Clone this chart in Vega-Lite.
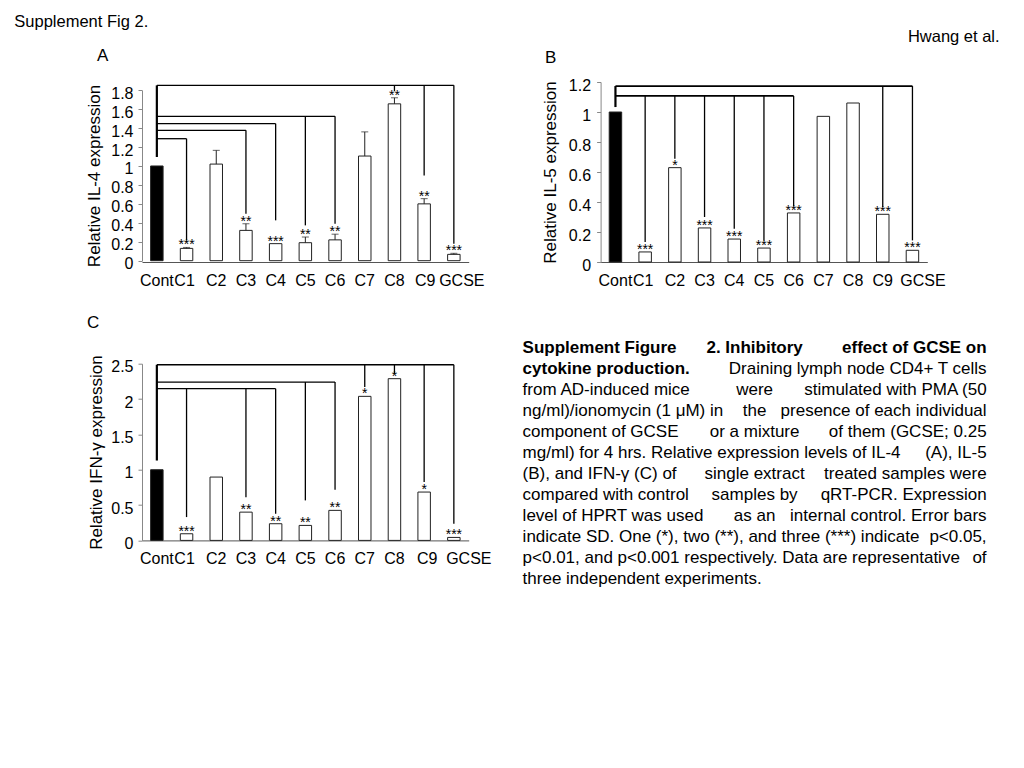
{
  "$schema": "https://vega.github.io/schema/vega-lite/v6.json",
  "padding": {"left": 14, "top": 14, "right": 5, "bottom": 5},
  "background": "white",
  "columns": 2,
  "align": "none",
  "bounds": "flush",
  "spacing": {"row": 76.7, "column": 131.6},
  "title": {"text": "Supplement Fig 2.", "anchor": "start", "frame": "group", "dx": -127.7, "offset": -1.7, "fontSize": 16.5},
  "config": {
    "font": "Liberation Sans",
    "view": {"stroke": null},
    "title": {"fontWeight": "normal", "fontSize": 17, "color": "black"},
    "axis": {"grid": false, "labelOverlap": false, "labelFontSize": 16, "labelColor": "black", "titleFontSize": 17, "titleFontWeight": "normal", "titleColor": "black", "domainColor": "#888", "tickColor": "#888"},
    "axisX": {"domainColor": "#555"}
  },
  "concat": [
    {
      "width": 326.7,
      "height": 180,
      "title": {"text": "A", "anchor": "start", "frame": "group", "dx": -45, "offset": 17},
      "layer": [
        {
          "data": {"values": [
            {"label": "Cont", "value": 1.0, "sig": ""},
            {"label": "C1", "value": 0.13, "err": 0.14, "sig": "***"},
            {"label": "C2", "value": 1.02, "err": 1.165, "sig": ""},
            {"label": "C3", "value": 0.32, "err": 0.39, "sig": "**"},
            {"label": "C4", "value": 0.18, "sig": "***"},
            {"label": "C5", "value": 0.19, "err": 0.25, "sig": "**"},
            {"label": "C6", "value": 0.22, "err": 0.28, "sig": "**"},
            {"label": "C7", "value": 1.105, "err": 1.36, "sig": ""},
            {"label": "C8", "value": 1.656, "err": 1.72, "sig": "**"},
            {"label": "C9", "value": 0.6, "err": 0.655, "sig": "**"},
            {"label": "GCSE", "value": 0.067, "err": 0.078, "sig": "***"}
          ]},
          "layer": [
            {
              "mark": {"type": "bar", "stroke": "#222", "strokeWidth": 1},
              "encoding": {
                "x": {"field": "label", "type": "nominal", "sort": null,
                  "scale": {"domain": ["Cont","C1","C2","C3","C4","C5","C6","C7","C8","C9","GCSE"], "paddingInner": 0.58, "paddingOuter": 0.29},
                  "axis": {"title": null, "labelAngle": 0, "ticks": false, "tickSize": 0, "labelPadding": 10, "labelOverlap": false,
                    "labelOffset": {"condition": [{"test": "datum.value === 'C1'", "value": -2}, {"test": "datum.value === 'C9'", "value": 1}, {"test": "datum.value === 'GCSE'", "value": 8}], "value": 0}}},
                "y": {"field": "value", "type": "quantitative",
                  "scale": {"domain": [0, 1.8], "range": [178.7, 8.2], "nice": false},
                  "axis": {"title": "Relative IL-4 expression", "values": [0,0.2,0.4,0.6,0.8,1,1.2,1.4,1.6,1.8], "tickCount": 20, "format": "~g", "labelOverlap": false, "tickSize": 4, "labelPadding": 5, "labelOffset": 3, "titlePadding": 7}},
                "fill": {"condition": {"test": "datum.label === 'Cont'", "value": "black"}, "value": "white"}
              }
            },
            {
              "transform": [{"filter": "isValid(datum.err)"}],
              "mark": {"type": "rule", "color": "#222", "strokeWidth": 1},
              "encoding": {"x": {"field": "label", "type": "nominal"}, "y": {"field": "value", "type": "quantitative"}, "y2": {"field": "err"}}
            },
            {
              "transform": [{"filter": "isValid(datum.err)"}],
              "mark": {"type": "tick", "color": "#222", "thickness": 1, "size": 7},
              "encoding": {"x": {"field": "label", "type": "nominal"}, "y": {"field": "err", "type": "quantitative"}}
            },
            {
              "transform": [{"filter": "isValid(datum.err)"}],
              "mark": {"type": "text", "fontSize": 14, "baseline": "alphabetic", "dy": 2},
              "encoding": {"x": {"field": "label", "type": "nominal"}, "y": {"field": "err", "type": "quantitative"}, "text": {"field": "sig"}}
            },
            {
              "transform": [{"filter": "!isValid(datum.err)"}],
              "mark": {"type": "text", "fontSize": 14, "baseline": "alphabetic", "dy": 2},
              "encoding": {"x": {"field": "label", "type": "nominal"}, "y": {"field": "value", "type": "quantitative"}, "text": {"field": "sig"}}
            }
          ]
        },
        {
          "data": {"values": [
            {"from": "Cont", "to": "C1", "level": 1.288},
            {"from": "Cont", "to": "C3", "level": 1.376},
            {"from": "Cont", "to": "C4", "level": 1.447},
            {"from": "Cont", "to": "C6", "level": 1.524},
            {"from": "Cont", "to": "GCSE", "level": 1.851}
          ]},
          "mark": {"type": "rule", "color": "black", "strokeWidth": 1.3},
          "encoding": {"x": {"field": "from", "type": "nominal"}, "x2": {"field": "to"}, "y": {"field": "level", "type": "quantitative"}}
        },
        {
          "data": {"values": [
            {"at": "Cont", "lo": 1.095, "hi": 1.851},
            {"at": "C1", "lo": 0.214, "hi": 1.288},
            {"at": "C3", "lo": 0.496, "hi": 1.376},
            {"at": "C4", "lo": 0.426, "hi": 1.447},
            {"at": "C5", "lo": 0.373, "hi": 1.524},
            {"at": "C6", "lo": 0.391, "hi": 1.524},
            {"at": "C8", "lo": 1.79, "hi": 1.851},
            {"at": "C9", "lo": 0.9, "hi": 1.851},
            {"at": "GCSE", "lo": 0.18, "hi": 1.851}
          ]},
          "layer": [
            {
              "transform": [{"filter": "datum.at !== 'Cont'"}],
              "mark": {"type": "rule", "color": "black", "strokeWidth": 1.3},
              "encoding": {"x": {"field": "at", "type": "nominal"}, "y": {"field": "lo", "type": "quantitative"}, "y2": {"field": "hi"}}
            },
            {
              "transform": [{"filter": "datum.at === 'Cont'"}],
              "mark": {"type": "rule", "color": "black", "strokeWidth": 2.2},
              "encoding": {"x": {"field": "at", "type": "nominal"}, "y": {"field": "lo", "type": "quantitative"}, "y2": {"field": "hi"}}
            }
          ]
        }
      ]
    },
    {
      "width": 326.7,
      "height": 180,
      "title": {"text": "Hwang et al.", "anchor": "end", "frame": "group", "dx": 72.3, "offset": 3, "fontSize": 16.5},
      "resolve": {"axis": {"x": "independent"}},
      "layer": [
        {
          "data": {"values": [
            {"label": "Cont", "value": 1.0, "sig": ""},
            {"label": "C1", "value": 0.067, "sig": "***"},
            {"label": "C2", "value": 0.629, "sig": "*"},
            {"label": "C3", "value": 0.227, "sig": "***"},
            {"label": "C4", "value": 0.153, "sig": "***"},
            {"label": "C5", "value": 0.093, "sig": "***"},
            {"label": "C6", "value": 0.327, "sig": "***"},
            {"label": "C7", "value": 0.971, "sig": ""},
            {"label": "C8", "value": 1.06, "sig": ""},
            {"label": "C9", "value": 0.318, "sig": "***"},
            {"label": "GCSE", "value": 0.078, "sig": "***"}
          ]},
          "layer": [
            {
              "mark": {"type": "bar", "stroke": "#222", "strokeWidth": 1},
              "encoding": {
                "x": {"field": "label", "type": "nominal", "sort": null,
                  "scale": {"domain": ["Cont","C1","C2","C3","C4","C5","C6","C7","C8","C9","GCSE"], "paddingInner": 0.58, "paddingOuter": 0.29},
                  "axis": {"title": null, "labelAngle": 0, "ticks": false, "tickSize": 0, "labelPadding": 10, "labelOverlap": false,
                    "labelOffset": {"condition": [{"test": "datum.value === 'C1'", "value": -2}, {"test": "datum.value === 'GCSE'", "value": 10.5}], "value": 0}}},
                "y": {"field": "value", "type": "quantitative",
                  "scale": {"domain": [0, 1.2], "nice": false},
                  "axis": {"title": "Relative IL-5 expression", "values": [0,0.2,0.4,0.6,0.8,1,1.2], "tickCount": 20, "format": "~g", "labelOverlap": false, "tickSize": 4, "labelPadding": 6, "labelOffset": 3, "titlePadding": 9}},
                "fill": {"condition": {"test": "datum.label === 'Cont'", "value": "black"}, "value": "white"}
              }
            },
            {
              "mark": {"type": "text", "fontSize": 14, "baseline": "alphabetic", "dy": 2},
              "encoding": {"x": {"field": "label", "type": "nominal"}, "y": {"field": "value", "type": "quantitative"}, "text": {"field": "sig"}}
            }
          ]
        },
        {
          "data": {"values": [
            {"from": "Cont", "to": "C6", "level": 1.107},
            {"from": "Cont", "to": "GCSE", "level": 1.173}
          ]},
          "mark": {"type": "rule", "color": "black", "strokeWidth": 1.8},
          "encoding": {
            "x": {"field": "from", "type": "nominal",
              "axis": {"orient": "top", "title": "B", "labels": false, "ticks": false, "domain": false, "titleAnchor": "start", "titleAlign": "left", "titleX": -56, "titleY": -19.6, "titleBaseline": "alphabetic", "titleFontSize": 17}},
            "x2": {"field": "to"},
            "y": {"field": "level", "type": "quantitative"}
          }
        },
        {
          "data": {"values": [
            {"at": "Cont", "lo": 1.033, "hi": 1.173},
            {"at": "C1", "lo": 0.133, "hi": 1.107},
            {"at": "C2", "lo": 0.689, "hi": 1.107},
            {"at": "C3", "lo": 0.3, "hi": 1.107},
            {"at": "C4", "lo": 0.222, "hi": 1.107},
            {"at": "C5", "lo": 0.144, "hi": 1.107},
            {"at": "C6", "lo": 0.371, "hi": 1.107},
            {"at": "C9", "lo": 0.367, "hi": 1.173},
            {"at": "GCSE", "lo": 0.144, "hi": 1.173}
          ]},
          "layer": [
            {
              "transform": [{"filter": "datum.at !== 'Cont'"}],
              "mark": {"type": "rule", "color": "black", "strokeWidth": 1.3},
              "encoding": {"x": {"field": "at", "type": "nominal", "axis": null}, "y": {"field": "lo", "type": "quantitative"}, "y2": {"field": "hi"}}
            },
            {
              "transform": [{"filter": "datum.at === 'Cont'"}],
              "mark": {"type": "rule", "color": "black", "strokeWidth": 2.2},
              "encoding": {"x": {"field": "at", "type": "nominal", "axis": null}, "y": {"field": "lo", "type": "quantitative"}, "y2": {"field": "hi"}}
            }
          ]
        }
      ]
    },
    {
      "width": 326.7,
      "height": 201.7,
      "title": {"text": "C", "anchor": "start", "frame": "group", "dx": -55, "offset": 7},
      "layer": [
        {
          "data": {"values": [
            {"label": "Cont", "value": 1.0, "sig": ""},
            {"label": "C1", "value": 0.094, "sig": "***"},
            {"label": "C2", "value": 0.896, "sig": ""},
            {"label": "C3", "value": 0.4, "sig": "**"},
            {"label": "C4", "value": 0.236, "sig": "**"},
            {"label": "C5", "value": 0.212, "sig": "**"},
            {"label": "C6", "value": 0.425, "sig": "**"},
            {"label": "C7", "value": 2.038, "sig": "*"},
            {"label": "C8", "value": 2.288, "sig": "*"},
            {"label": "C9", "value": 0.684, "sig": "*"},
            {"label": "GCSE", "value": 0.042, "sig": "***"}
          ]},
          "layer": [
            {
              "mark": {"type": "bar", "stroke": "#222", "strokeWidth": 1},
              "encoding": {
                "x": {"field": "label", "type": "nominal", "sort": null,
                  "scale": {"domain": ["Cont","C1","C2","C3","C4","C5","C6","C7","C8","C9","GCSE"], "paddingInner": 0.58, "paddingOuter": 0.29},
                  "axis": {"title": null, "labelAngle": 0, "ticks": false, "tickSize": 0, "labelPadding": 10, "labelOverlap": false,
                    "labelOffset": {"condition": [{"test": "datum.value === 'C1'", "value": -2}, {"test": "datum.value === 'C9'", "value": 3}, {"test": "datum.value === 'GCSE'", "value": 15}], "value": 0}}},
                "y": {"field": "value", "type": "quantitative",
                  "scale": {"domain": [0, 2.5], "range": [201.7, 25], "nice": false},
                  "axis": {"title": "Relative IFN-γ expression", "values": [0,0.5,1,1.5,2,2.5], "tickCount": 20, "format": "~g", "labelOverlap": false, "tickSize": 4, "labelPadding": 5, "labelOffset": 3, "titlePadding": 5}},
                "fill": {"condition": {"test": "datum.label === 'Cont'", "value": "black"}, "value": "white"}
              }
            },
            {
              "mark": {"type": "text", "fontSize": 14, "baseline": "alphabetic", "dy": 2},
              "encoding": {"x": {"field": "label", "type": "nominal"}, "y": {"field": "value", "type": "quantitative"}, "text": {"field": "sig"}}
            }
          ]
        },
        {
          "data": {"values": [
            {"from": "Cont", "to": "C4", "level": 2.146},
            {"from": "Cont", "to": "C6", "level": 2.24},
            {"from": "Cont", "to": "GCSE", "level": 2.485}
          ]},
          "mark": {"type": "rule", "color": "black", "strokeWidth": 1.3},
          "encoding": {"x": {"field": "from", "type": "nominal"}, "x2": {"field": "to"}, "y": {"field": "level", "type": "quantitative"}}
        },
        {
          "data": {"values": [
            {"at": "Cont", "lo": 1.13, "hi": 2.485},
            {"at": "C1", "lo": 0.33, "hi": 2.146},
            {"at": "C3", "lo": 0.61, "hi": 2.146},
            {"at": "C4", "lo": 0.377, "hi": 2.146},
            {"at": "C5", "lo": 0.566, "hi": 2.24},
            {"at": "C6", "lo": 0.717, "hi": 2.24},
            {"at": "C7", "lo": 2.17, "hi": 2.485},
            {"at": "C8", "lo": 2.36, "hi": 2.485},
            {"at": "C9", "lo": 0.826, "hi": 2.485},
            {"at": "GCSE", "lo": 0.236, "hi": 2.485}
          ]},
          "layer": [
            {
              "transform": [{"filter": "datum.at !== 'Cont'"}],
              "mark": {"type": "rule", "color": "black", "strokeWidth": 1.3},
              "encoding": {"x": {"field": "at", "type": "nominal"}, "y": {"field": "lo", "type": "quantitative"}, "y2": {"field": "hi"}}
            },
            {
              "transform": [{"filter": "datum.at === 'Cont'"}],
              "mark": {"type": "rule", "color": "black", "strokeWidth": 2.2},
              "encoding": {"x": {"field": "at", "type": "nominal"}, "y": {"field": "lo", "type": "quantitative"}, "y2": {"field": "hi"}}
            }
          ]
        }
      ]
    },
    {
      "width": 386,
      "height": 250,
      "data": {"values": [
        {"line": 0, "w": "bold", "part": "L", "text": "Supplement Figure"},
        {"line": 0, "w": "bold", "part": "M", "text": "2. Inhibitory"},
        {"line": 0, "w": "bold", "part": "R", "text": "effect of GCSE on"},
        {"line": 1, "w": "bold", "part": "L", "text": "cytokine production."},
        {"line": 1, "w": "plain", "part": "R", "text": "Draining lymph node CD4+ T cells"},
        {"line": 2, "w": "plain", "part": "L", "text": "from AD-induced mice"},
        {"line": 2, "w": "plain", "part": "M", "text": "were"},
        {"line": 2, "w": "plain", "part": "R", "text": "stimulated with PMA (50"},
        {"line": 3, "w": "plain", "part": "L", "text": "ng/ml)/ionomycin (1 μM) in"},
        {"line": 3, "w": "plain", "part": "M", "text": "the"},
        {"line": 3, "w": "plain", "part": "R", "text": "presence of each individual"},
        {"line": 4, "w": "plain", "part": "L", "text": "component of GCSE"},
        {"line": 4, "w": "plain", "part": "M", "text": "or a mixture"},
        {"line": 4, "w": "plain", "part": "R", "text": "of them (GCSE; 0.25"},
        {"line": 5, "w": "plain", "part": "L", "text": "mg/ml) for 4 hrs. Relative expression levels of IL-4"},
        {"line": 5, "w": "plain", "part": "R", "text": "(A), IL-5"},
        {"line": 6, "w": "plain", "part": "L", "text": "(B), and IFN-γ (C) of"},
        {"line": 6, "w": "plain", "part": "M", "text": "single extract"},
        {"line": 6, "w": "plain", "part": "R", "text": "treated samples were"},
        {"line": 7, "w": "plain", "part": "L", "text": "compared with control"},
        {"line": 7, "w": "plain", "part": "M", "text": "samples by"},
        {"line": 7, "w": "plain", "part": "R", "text": "qRT-PCR. Expression"},
        {"line": 8, "w": "plain", "part": "L", "text": "level of HPRT was used"},
        {"line": 8, "w": "plain", "part": "M", "text": "as an"},
        {"line": 8, "w": "plain", "part": "R", "text": "internal control. Error bars"},
        {"line": 9, "w": "plain", "part": "L", "text": "indicate SD. One (*), two (**), and three (***) indicate"},
        {"line": 9, "w": "plain", "part": "R", "text": "p<0.05,"},
        {"line": 10, "w": "plain", "part": "L", "text": "p<0.01, and p<0.001 respectively. Data are representative"},
        {"line": 10, "w": "plain", "part": "R", "text": "of"},
        {"line": 11, "w": "plain", "part": "L", "text": "three independent experiments."}
      ]},
      "encoding": {
        "y": {"field": "line", "type": "quantitative", "scale": {"domain": [0, 11], "range": [14, 245]}, "axis": null},
        "text": {"field": "text"}
      },
      "layer": [
        {
          "transform": [{"filter": "datum.w === 'bold' && datum.part === 'L'"}],
          "mark": {"type": "text", "align": "left", "baseline": "alphabetic", "fontSize": 17, "fontWeight": "bold"},
          "encoding": {"x": {"datum": 0, "type": "quantitative", "scale": {"domain": [0, 1], "range": [-78, 386]}, "axis": null}}
        },
        {
          "transform": [{"filter": "datum.w === 'bold' && datum.part === 'M'"}],
          "mark": {"type": "text", "align": "center", "baseline": "alphabetic", "fontSize": 17, "fontWeight": "bold"},
          "encoding": {"x": {"datum": 0.5, "type": "quantitative"}}
        },
        {
          "transform": [{"filter": "datum.w === 'bold' && datum.part === 'R'"}],
          "mark": {"type": "text", "align": "right", "baseline": "alphabetic", "fontSize": 17, "fontWeight": "bold"},
          "encoding": {"x": {"datum": 1, "type": "quantitative"}}
        },
        {
          "transform": [{"filter": "datum.w === 'plain' && datum.part === 'L'"}],
          "mark": {"type": "text", "align": "left", "baseline": "alphabetic", "fontSize": 17},
          "encoding": {"x": {"datum": 0, "type": "quantitative"}}
        },
        {
          "transform": [{"filter": "datum.w === 'plain' && datum.part === 'M'"}],
          "mark": {"type": "text", "align": "center", "baseline": "alphabetic", "fontSize": 17},
          "encoding": {"x": {"datum": 0.5, "type": "quantitative"}}
        },
        {
          "transform": [{"filter": "datum.w === 'plain' && datum.part === 'R'"}],
          "mark": {"type": "text", "align": "right", "baseline": "alphabetic", "fontSize": 17},
          "encoding": {"x": {"datum": 1, "type": "quantitative"}}
        }
      ]
    }
  ]
}
